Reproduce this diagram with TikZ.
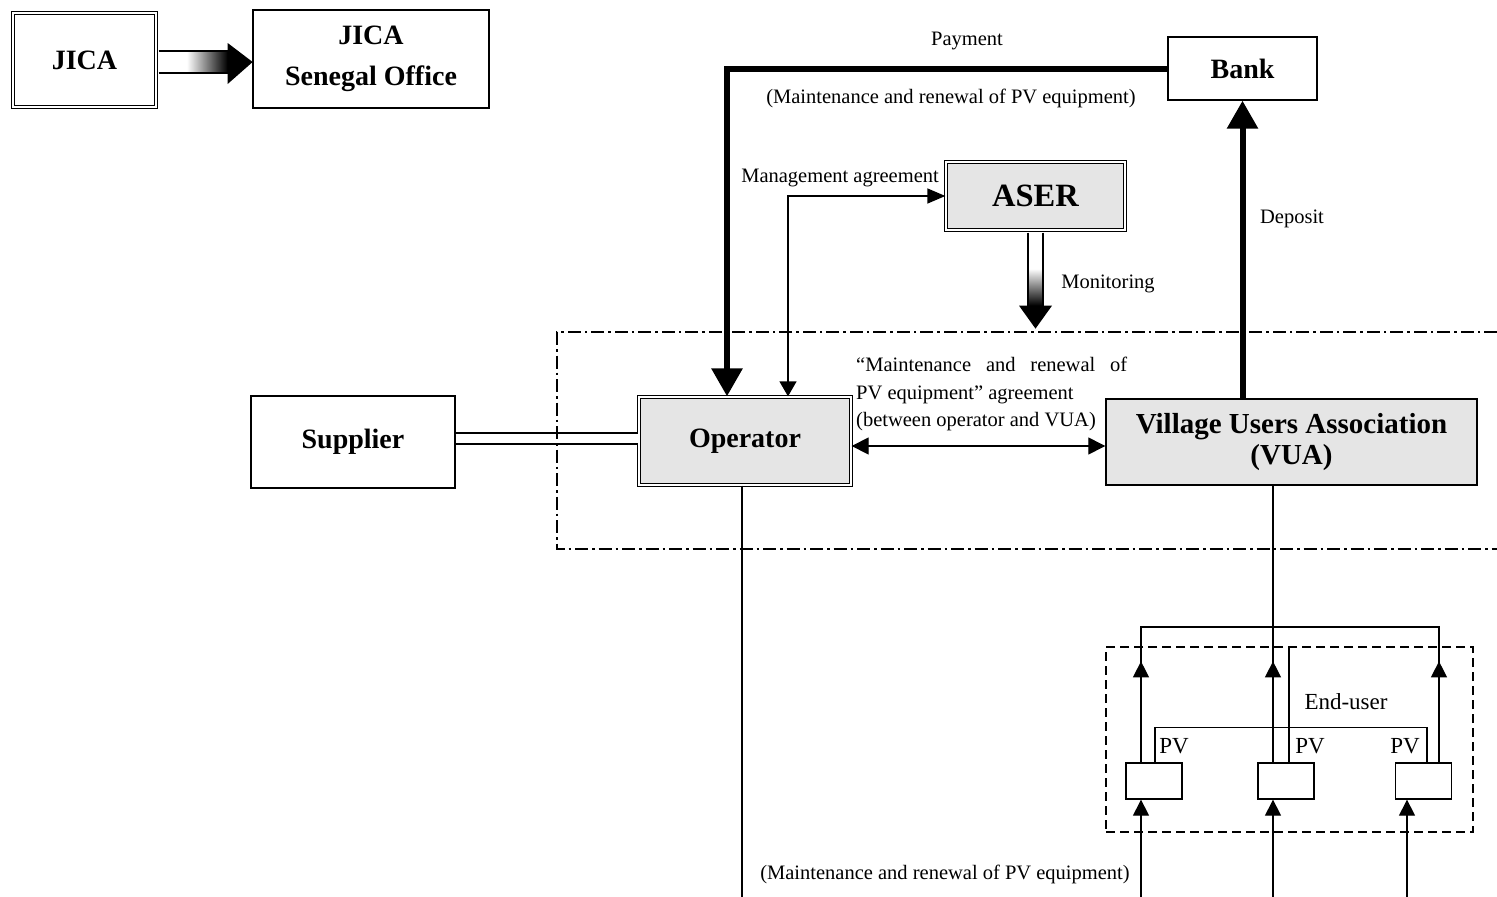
\documentclass[tikz,border=0pt]{standalone}
\usepackage{fontspec}
\setmainfont{Liberation Serif}
\usetikzlibrary{arrows.meta,calc}
\begin{document}
\begin{tikzpicture}[x=1pt,y=-1pt,
  boxfont/.style={font=\fontsize{28}{32}\selectfont\bfseries},
  lab/.style={font=\fontsize{20.5}{27.5}\selectfont, inner sep=0pt, yshift=-2.5pt},
  small/.style={font=\fontsize{23}{25}\selectfont, inner sep=0pt},
  plainbox/.style={draw, line width=1.4pt, inner sep=0pt, boxfont, align=center},
  dblbox/.style={plainbox, double, double distance=2pt, line width=1.3pt},
  shaded/.style={fill=black!10},
  pvbox/.style={draw, line width=1.3pt, minimum width=56pt, minimum height=36pt, inner sep=0pt},
  conn/.style={line width=1.3pt},
  tip/.style={-{Triangle[length=16pt,width=16pt]}},
  tipboth/.style={{Triangle[length=17pt,width=17pt]}-{Triangle[length=17pt,width=17pt]}},
  heavy/.style={line width=6pt, -{Triangle[length=28pt,width=30pt]}},
  dashdot/.style={line width=1.4pt, dash pattern=on 13pt off 4pt on 2.5pt off 4pt},
]
\useasboundingbox (0,0) rectangle (1497,897);

% ---------- boxes ----------
\node[dblbox, minimum width=143pt, minimum height=94pt] (jica) at (84.5,60) {JICA};
\node[plainbox, font=\fontsize{28}{41}\selectfont\bfseries, minimum width=236pt, minimum height=98pt] (office) at (371,59) {JICA\\Senegal Office};
\node[plainbox, minimum width=149pt, minimum height=63pt] (bank) at (1242.5,68.5) {Bank};
\node[dblbox, shaded, font=\fontsize{32.5}{36}\selectfont\bfseries, minimum width=179pt, minimum height=68pt] (aser) at (1035.5,196) {ASER};
\node[plainbox, minimum width=204pt, minimum height=92pt] (supplier) at (353,442) {Supplier};
\node[dblbox, shaded, minimum width=212pt, minimum height=88pt] (operator) at (745,441) {Operator};
\node[plainbox, shaded, font=\fontsize{29}{31}\selectfont\bfseries, minimum width=371pt, minimum height=86pt] (vua) at (1291.5,442) {Village Users Association\\(VUA)};

% end-user area
\node[draw, dashed, line width=1.3pt, dash pattern=on 9pt off 5pt, minimum width=367pt, minimum height=185pt, inner sep=0pt] (eu) at (1289.5,739.5) {};
\node[pvbox] (pv1) at (1154,781) {};
\node[pvbox] (pv2) at (1286,781) {};
\node[pvbox] (pv3) at (1423.5,781) {};

% ---------- labels ----------
\node[lab] (paylab) at (967,38) {Payment};
\node[lab] (mtop) at (951,96) {(Maintenance and renewal of PV equipment)};
\node[lab, anchor=east] (mgmt) at (939,175) {Management agreement};
\node[lab] (deplab) at (1292,216) {Deposit};
\node[lab] (monlab) at (1108,281) {Monitoring};
\node[lab, anchor=base west] (agr1) at (856,369) {\makebox[271pt][s]{“Maintenance and renewal of}};
\node[lab, anchor=base west] (agr2) at (856,397) {PV equipment” agreement};
\node[lab, anchor=base west] (agr3) at (856,424) {(between operator and VUA)};
\node[lab] (mbot) at (945,872) {(Maintenance and renewal of PV equipment)};
\node[small] (eulab) at (1346,702) {End-user};
\node[small] (pvl1) at (1174,746) {PV};
\node[small] (pvl2) at (1310,746) {PV};
\node[small] (pvl3) at (1405,746) {PV};

% ---------- operator frame ----------
\draw[conn, double, double distance=9.5pt] (supplier.east |- 0,438.5) -- (operator.west |- 0,438.5);
\draw[dashdot] (1497,332) -- (557,332) -- (557,549) -- (1497,549);

% ---------- JICA block arrow ----------
\begin{scope}[shift={(jica.east)}]
  \fill[white] (2,-9) rectangle (71,13);
  \shade[left color=white, right color=black] (30,-9) rectangle (71,13);
  \draw[line width=1.2pt] (2,-9) -- (71,-9) (2,13) -- (71,13);
  \fill (71,-17) -- (96,2) -- (71,24) -- cycle;
\end{scope}

% ---------- monitoring block arrow ----------
\begin{scope}[shift={(aser.south)}]
  \fill[white] (-7.5,2) rectangle (7.5,75);
  \shade[top color=white, bottom color=black] (-7.5,38) rectangle (7.5,75);
  \draw[line width=1.2pt] (-7.5,2) -- (-7.5,75) (7.5,2) -- (7.5,75);
  \fill (-16.5,75) -- (0,98) -- (16.5,75) -- cycle;
\end{scope}

% ---------- money and agreements ----------
\draw[heavy] (bank.west) -| ($(operator.north)+(-18,0)$);
\draw[heavy] (vua.north -| bank.south) -- (bank.south);
\draw[conn, {Triangle[length=18pt,width=15pt]}-{Triangle[length=15pt,width=17pt]}] (aser.west) -| ($(operator.north)+(43,0)$);
\draw[conn, tipboth] ($(operator.east)+(0,5)$) -- ($(vua.west)+(0,4)$);

% ---------- lines to the end-users ----------
\coordinate (bot) at (0,897);
\coordinate (bus) at (0,627);
\coordinate (p1top) at ($(pv1.north)+(-13,0)$);
\coordinate (p2top) at ($(pv2.north)+(-13,0)$);
\coordinate (p3top) at ($(pv3.north)+(15.5,0)$);
\coordinate (p3bot) at ($(pv3.south)+(-16.5,0)$);
\coordinate (q1) at ($(pv1.north)+(1,0)$);
\coordinate (q2) at ($(pv2.north)+(3,0)$);
\coordinate (q3) at ($(pv3.north)+(3.5,0)$);

\draw[conn] ($(operator.south)+(-3,0)$) -- ++(0,412);
\draw[conn] (vua.south -| p2top) -- (p2top);
\draw[conn] (p1top) -- (p1top |- bus) -- (p3top |- bus) -- (p3top);
\draw[conn, tip] (p1top) -- ++(0,-101);
\draw[conn, tip] (p2top) -- ++(0,-101);
\draw[conn, tip] (p3top) -- ++(0,-101);
\draw[conn] (q1) -- ++(0,-35) -| (q3);
\draw[conn] (q2) -- (q2 |- eu.north);

\draw[conn, tip] (p1top |- bot) -- (p1top |- pv1.south);
\draw[conn, tip] (p2top |- bot) -- (p2top |- pv2.south);
\draw[conn, tip] (p3bot |- bot) -- (p3bot);
\end{tikzpicture}
\end{document}
